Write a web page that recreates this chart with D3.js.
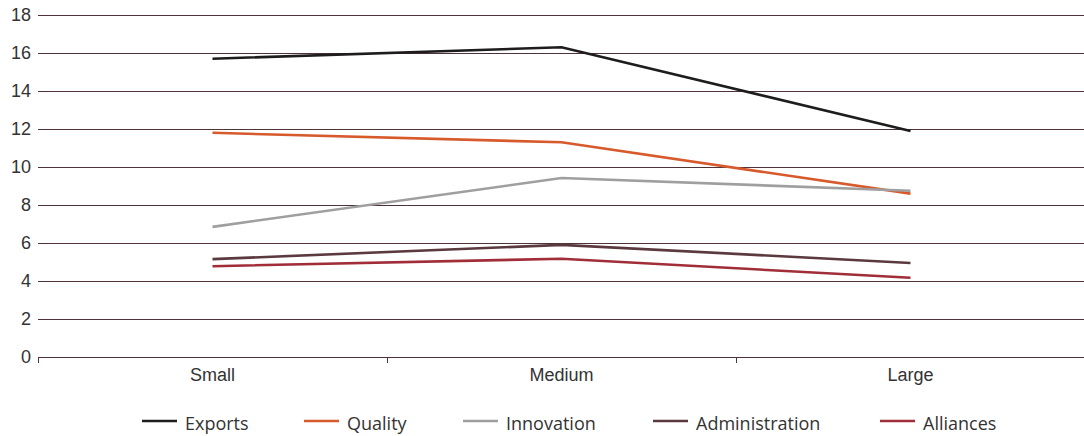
<!DOCTYPE html>
<html><head><meta charset="utf-8">
<script src="https://cdn.jsdelivr.net/npm/d3@7"></script>
<style>
html,body{margin:0;padding:0;background:#fff;}
svg{display:block;font-family:"Open Sans","Noto Sans",sans-serif;}
</style></head>
<body><svg id="c" width="1084" height="436"></svg>
<script>
const categories = ["Small","Medium","Large"];
const seriesNames = ["Exports","Quality","Innovation","Administration","Alliances"];
const exportsVals = [15.7, 16.3, 11.9];
const qualityVals = [11.8, 11.3, 8.6];
const innovationVals = [6.85, 9.42, 8.75];
const administrationVals = [5.15, 5.9, 4.95];
const alliancesVals = [4.78, 5.17, 4.17];
const yTicks = [0,2,4,6,8,10,12,14,16,18];
const colors = ["#1e1c1d","#d65a2c","#9f9f9f","#5b3a3f","#a02d38"];

(function(){
const series = [exportsVals, qualityVals, innovationVals, administrationVals, alliancesVals]
  .map((v,i)=>({name:seriesNames[i], values:v, color:colors[i]}));

const svg = d3.select("#c");
const pl = 38, pr = 1085, pt = 15, pb = 357;
const x = d3.scaleBand().domain(categories).range([pl,pr]);
const y = d3.scaleLinear().domain([0,18]).range([pb,pt]);
const gridColor = "#4e3338";
const fs = 18;

svg.append("g").selectAll("line").data(yTicks.filter(d=>d>0)).join("line")
  .attr("x1",pl).attr("x2",1084)
  .attr("y1",d=>Math.round(y(d))+0.5).attr("y2",d=>Math.round(y(d))+0.5)
  .attr("stroke",gridColor).attr("stroke-width",1);

const ya = svg.append("g").attr("transform",`translate(${pl},0)`)
  .call(d3.axisLeft(y).tickValues(yTicks).tickSize(0).tickPadding(7));
ya.select(".domain").remove();
ya.selectAll("text").attr("font-size",fs).attr("fill","#333").attr("font-family","inherit");

const xa = svg.append("g").attr("transform",`translate(0,${Math.round(pb)+0.5})`)
  .call(d3.axisBottom(x).tickSize(0).tickPadding(11));
xa.select(".domain").attr("stroke",gridColor).attr("d",`M${pl},0H1084`);
xa.selectAll("text").attr("font-size",fs).attr("fill","#333").attr("font-family","inherit");
const seps = categories.map(c=>x(c)).concat([pr]);
svg.append("g").selectAll("line").data(seps).join("line")
  .attr("x1",d=>Math.round(d)+0.5).attr("x2",d=>Math.round(d)+0.5)
  .attr("y1",pb).attr("y2",pb+6)
  .attr("stroke",gridColor).attr("stroke-width",1);

const line = d3.line().x((d,i)=>x(categories[i])+x.bandwidth()/2).y(d=>y(d));
svg.append("g").selectAll("path").data(series).join("path")
  .attr("d",d=>line(d.values)).attr("fill","none")
  .attr("stroke",d=>d.color).attr("stroke-width",2.6);

const legX = [142,304,463,653,880];
const lg = svg.append("g").selectAll("g").data(series).join("g")
  .attr("transform",(d,i)=>`translate(${legX[i]},421)`);
lg.append("line").attr("x1",0).attr("x2",35).attr("y1",0).attr("y2",0)
  .attr("stroke",d=>d.color).attr("stroke-width",2.6);
lg.append("text").attr("x",43).attr("y",3).attr("dy","0.35em")
  .attr("font-size",fs).attr("fill","#333").text(d=>d.name);
})();
</script></body></html>
